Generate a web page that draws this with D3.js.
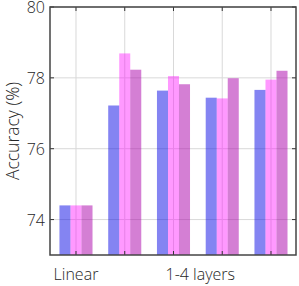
<!DOCTYPE html>
<html><head><meta charset="utf-8">
<script src="https://cdn.jsdelivr.net/npm/d3@7"></script>
<style>body{margin:0;background:#fff}svg{display:block}text{font-family:"Open Sans",sans-serif;fill:#262626}</style>
</head><body><svg id="c" width="299" height="286"></svg>
<script>
const groups = [1, 2, 3, 4, 5];
const tickLabels = ["Linear", "1-4 layers"];
const tickLabelPos = [1, 3.55];
const seriesA = [74.40, 77.22, 77.64, 77.44, 77.66];
const seriesB = [74.40, 78.69, 78.05, 77.42, 77.95];
const seriesC = [74.40, 78.23, 77.82, 77.99, 78.20];
const yTicks = [74, 76, 78, 80];
const series = [
  {vals: seriesA, color: "rgb(10,10,230)", op: 0.5},
  {vals: seriesB, color: "rgb(255,0,255)", op: 0.4},
  {vals: seriesC, color: "rgb(170,0,170)", op: 0.5}
];
const svg = d3.select("#c");
const L = 50, R = 296, T = 7, B = 255;
const x = d3.scaleLinear().domain([0.467, 5.513]).range([L, R]);
const y = d3.scaleLinear().domain([73, 80]).range([B, T]);
const bw = 0.226;
// grid
svg.append("g").selectAll("line").data(yTicks).join("line")
  .attr("x1", L).attr("x2", R).attr("y1", d => y(d)).attr("y2", d => y(d))
  .attr("stroke", "#d9d9d9").attr("stroke-width", 1);
svg.append("g").selectAll("line").data(groups).join("line")
  .attr("y1", T).attr("y2", B).attr("x1", d => x(d)).attr("x2", d => x(d))
  .attr("stroke", "#d9d9d9").attr("stroke-width", 1);
// bars
series.forEach((s, k) => {
  svg.append("g").selectAll("rect").data(groups).join("rect")
    .attr("x", (d, i) => x(d + (k - 1.5) * bw))
    .attr("width", x(bw) - x(0))
    .attr("y", (d, i) => y(s.vals[i]))
    .attr("height", (d, i) => B - y(s.vals[i]))
    .attr("fill", s.color).attr("fill-opacity", s.op);
});
// ticks inward
const tk = 4;
groups.forEach(g => {
  svg.append("line").attr("x1", x(g)).attr("x2", x(g)).attr("y1", B).attr("y2", B - tk).attr("stroke", "#333");
  svg.append("line").attr("x1", x(g)).attr("x2", x(g)).attr("y1", T).attr("y2", T + tk).attr("stroke", "#333");
});
yTicks.forEach(v => {
  svg.append("line").attr("x1", L).attr("x2", L + tk).attr("y1", y(v)).attr("y2", y(v)).attr("stroke", "#333");
  svg.append("line").attr("x1", R).attr("x2", R - tk).attr("y1", y(v)).attr("y2", y(v)).attr("stroke", "#333");
});
// frame
svg.append("rect").attr("x", L).attr("y", T).attr("width", R - L).attr("height", B - T)
  .attr("fill", "none").attr("stroke", "#444").attr("stroke-width", 1.5);
// labels
svg.append("g").selectAll("text").data(yTicks).join("text")
  .attr("x", L - 5).attr("y", d => y(d)).attr("dy", "0.4em")
  .attr("text-anchor", "end").attr("font-size", 16).attr("font-weight", 300).text(d => d);
svg.append("g").selectAll("text").data(tickLabels).join("text")
  .attr("x", (d, i) => x(tickLabelPos[i])).attr("y", 280)
  .attr("text-anchor", "middle").attr("font-size", 16).attr("font-weight", 300).text(d => d);
svg.append("text").attr("transform", `translate(19,${(T + B) / 2}) rotate(-90)`)
  .attr("text-anchor", "middle").attr("font-size", 17.5).attr("font-weight", 300).text("Accuracy (%)");
</script></body></html>
